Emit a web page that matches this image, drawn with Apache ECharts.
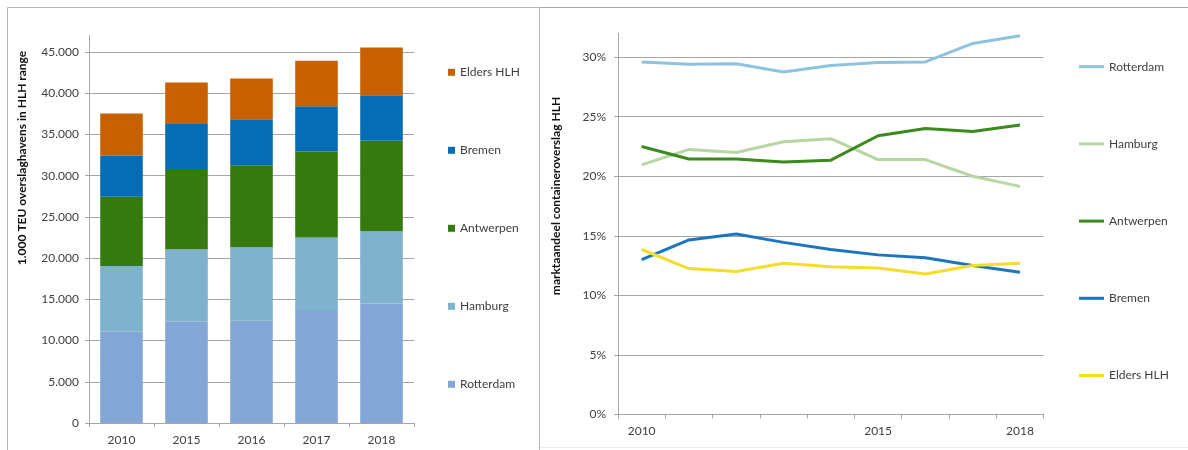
<!DOCTYPE html>
<html>
<head>
<meta charset="utf-8">
<script src="https://cdn.jsdelivr.net/npm/echarts@6/dist/echarts.min.js"></script>
<style>
html,body{margin:0;padding:0;background:#fff;}
#left{position:absolute;left:0;top:0;width:540px;height:450px;}
#right{position:absolute;left:540px;top:0;width:648px;height:450px;}
</style>
</head>
<body>
<div id="left"></div>
<div id="right"></div>
<script>
// ---- left chart data (1.000 TEU) ----
const barYears = ['2010', '2015', '2016', '2017', '2018'];
const teuRotterdam = [11100, 12300, 12400, 13700, 14500];
const teuHamburg = [7950, 8770, 8930, 8800, 8770];
const teuAntwerpen = [8400, 9610, 9940, 10420, 10950];
const teuBremen = [4970, 5575, 5575, 5495, 5535];
const teuElders = [5130, 5050, 4930, 5535, 5775];
const leftTicks = [0, 5000, 10000, 15000, 20000, 25000, 30000, 35000, 40000, 45000];

// ---- right chart data (market share %) ----
const lineYears = ['2010', '2011', '2012', '2013', '2014', '2015', '2016', '2017', '2018'];
const lineYearLabels = ['2010', '2015', '2018'];
const shareRotterdam = [29.6, 29.4, 29.45, 28.75, 29.3, 29.55, 29.6, 31.15, 31.8];
const shareHamburg = [20.95, 22.25, 22.0, 22.9, 23.15, 21.4, 21.4, 20.0, 19.15];
const shareAntwerpen = [22.5, 21.45, 21.45, 21.2, 21.35, 23.4, 24.0, 23.75, 24.3];
const shareBremen = [13.0, 14.65, 15.15, 14.45, 13.85, 13.4, 13.15, 12.5, 11.95];
const shareElders = [13.85, 12.25, 12.0, 12.7, 12.4, 12.3, 11.8, 12.5, 12.7];
const rightTicks = [0, 5, 10, 15, 20, 25, 30];

const FONT = 'Lato';
const labelColor = '#404040';
const gridColor = '#a6a6a6';

function dotThousands(v) {
  return String(v).replace(/\B(?=(\d{3})+(?!\d))/g, '.');
}

// ================= LEFT =================
const left = echarts.init(document.getElementById('left'), null, {renderer: 'canvas'});
const barColors = {
  'Rotterdam': '#84a6d6',
  'Hamburg': '#7eb2cd',
  'Antwerpen': '#36790f',
  'Bremen': '#066cb4',
  'Elders HLH': '#c76100'
};
function barSeries(name, data) {
  return {
    name: name, type: 'bar', stack: 'teu', data: data,
    barWidth: '65.5%',
    itemStyle: {color: barColors[name]},
    emphasis: {disabled: true}
  };
}
left.setOption({
  animation: false,
  grid: {left: 89, width: 325, top: 35.5, bottom: 27},
  legend: {
    orient: 'vertical', left: 448, top: 65.3, padding: 0,
    itemWidth: 7, itemHeight: 7, itemGap: 64, icon: 'rect',
    data: ['Elders HLH', 'Bremen', 'Antwerpen', 'Hamburg', 'Rotterdam'],
    textStyle: {fontFamily: FONT, fontSize: 12, color: labelColor, lineHeight: 14}
  },
  xAxis: {
    type: 'category', data: barYears,
    axisLine: {lineStyle: {color: gridColor}},
    axisTick: {show: true, length: 4, lineStyle: {color: gridColor}},
    axisLabel: {fontFamily: FONT, fontSize: 12, color: labelColor, margin: 11}
  },
  yAxis: {
    type: 'value', min: 0, max: 47000,
    axisLine: {show: true, lineStyle: {color: gridColor}},
    axisTick: {show: true, length: 4, customValues: leftTicks, lineStyle: {color: gridColor}},
    axisLabel: {customValues: leftTicks, fontFamily: FONT, fontSize: 12, color: labelColor, margin: 10,
      formatter: function (v) { return dotThousands(v); }},
    splitLine: {show: true, lineStyle: {color: gridColor, width: 1}}
  },
  graphic: [
    {type: 'rect', silent: true, shape: {x: 7.5, y: 7.5, width: 532, height: 470},
      style: {fill: 'none', stroke: '#b5b5b5', lineWidth: 1}},
    {type: 'text', x: 22.5, y: 158, rotation: Math.PI / 2, silent: true,
      style: {text: '1.000 TEU overslaghavens in HLH range', font: 'bold 12px Lato', fill: '#111',
        align: 'center', verticalAlign: 'middle'}}
  ],
  series: [
    barSeries('Rotterdam', teuRotterdam),
    barSeries('Hamburg', teuHamburg),
    barSeries('Antwerpen', teuAntwerpen),
    barSeries('Bremen', teuBremen),
    barSeries('Elders HLH', teuElders)
  ]
});

// ================= RIGHT =================
const right = echarts.init(document.getElementById('right'), null, {renderer: 'canvas'});
const lineColors = {
  'Rotterdam': '#8ec3e0',
  'Hamburg': '#b7d6a3',
  'Antwerpen': '#3a8a1d',
  'Bremen': '#1c75bf',
  'Elders HLH': '#f4dd2b'
};
function lineSeries(name, data) {
  return {
    name: name, type: 'line', data: data, symbol: 'none',
    lineStyle: {color: lineColors[name], width: 3},
    itemStyle: {color: lineColors[name]},
    emphasis: {disabled: true}
  };
}
right.setOption({
  animation: false,
  grid: {left: 78, width: 425.6, top: 33.3, bottom: 35.5},
  legend: {
    orient: 'vertical', left: 539, top: 59.7, padding: 0,
    itemWidth: 25, itemHeight: 3, itemGap: 63.2, icon: 'rect',
    data: ['Rotterdam', 'Hamburg', 'Antwerpen', 'Bremen', 'Elders HLH'],
    textStyle: {fontFamily: FONT, fontSize: 12, color: labelColor, lineHeight: 14}
  },
  xAxis: {
    type: 'category', data: lineYears, boundaryGap: true,
    axisLine: {lineStyle: {color: gridColor}},
    axisTick: {show: true, length: 4, interval: 0, lineStyle: {color: gridColor}},
    axisLabel: {interval: 0, fontFamily: FONT, fontSize: 12, color: labelColor, margin: 11,
      formatter: function (v) { return lineYearLabels.indexOf(v) >= 0 ? v : ''; }}
  },
  yAxis: {
    type: 'value', min: 0, max: 32,
    axisLine: {show: true, lineStyle: {color: gridColor}},
    axisTick: {show: true, length: 4, customValues: rightTicks, lineStyle: {color: gridColor}},
    axisLabel: {customValues: rightTicks, fontFamily: FONT, fontSize: 12, color: labelColor, margin: 12,
      formatter: function (v) { return v + '%'; }},
    splitLine: {show: true, lineStyle: {color: gridColor, width: 1}}
  },
  graphic: [
    {type: 'line', silent: true, shape: {x1: 0, y1: 7.5, x2: 648, y2: 7.5},
      style: {stroke: '#a8a8a8', lineWidth: 1}},
    {type: 'line', silent: true, shape: {x1: 0, y1: 447.5, x2: 648, y2: 447.5},
      style: {stroke: '#ececec', lineWidth: 1}},
    {type: 'text', x: 16.5, y: 196, rotation: Math.PI / 2, silent: true,
      style: {text: 'marktaandeel containeroverslag HLH', font: 'bold 12px Lato', fill: '#111',
        align: 'center', verticalAlign: 'middle'}}
  ],
  series: [
    lineSeries('Rotterdam', shareRotterdam),
    lineSeries('Hamburg', shareHamburg),
    lineSeries('Antwerpen', shareAntwerpen),
    lineSeries('Bremen', shareBremen),
    lineSeries('Elders HLH', shareElders)
  ]
});
</script>
</body>
</html>
